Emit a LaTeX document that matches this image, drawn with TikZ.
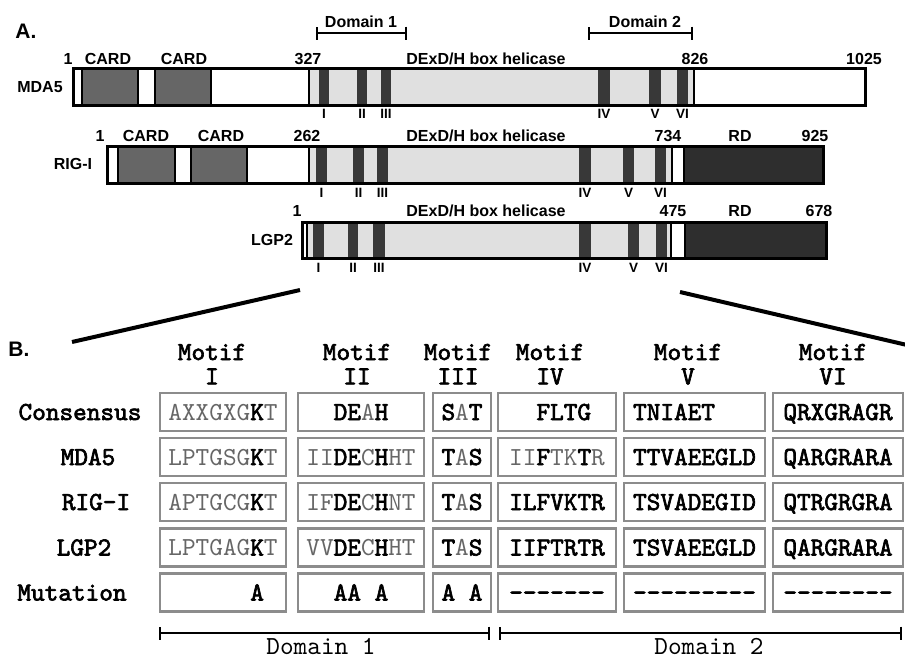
\documentclass[tikz,border=0pt]{standalone}
\usepackage{fontspec}
\newfontfamily\arial{Liberation Sans}
\newfontfamily\seqfont{lmmono10-regular.otf}[BoldFont=lmmono10-regular.otf,BoldFeatures={FakeBold=2.5}]
\usetikzlibrary{positioning,arrows.meta}
\definecolor{cardgray}{gray}{0.40}
\definecolor{motifgray}{gray}{0.22}
\definecolor{rdgray}{gray}{0.18}
\definecolor{helgray}{gray}{0.88}
\definecolor{boxgray}{gray}{0.55}
\definecolor{seqgray}{gray}{0.40}
\newcommand{\cons}[1]{{\bfseries\color{black}#1}}
\newcommand{\pad}{\hphantom{0}}
\newcommand{\dsh}{\mbox{-}}
\begin{document}
\begin{tikzpicture}[x=1pt,y=-1pt,
lab/.style={font=\arial\bfseries\fontsize{16}{18}\selectfont,inner sep=0pt,text height=11.5pt,text depth=0pt},
big/.style={font=\arial\bfseries\fontsize{21}{24}\selectfont,inner sep=0pt,text height=15pt,text depth=0pt},
num/.style={font=\arial\bfseries\fontsize{13.5}{15}\selectfont,inner sep=0pt,text height=9.7pt,text depth=0pt},
bar/.style={draw,line width=3pt},
sep/.style={draw,line width=1.8pt},
card/.style={sep,fill=cardgray},
hel/.style={sep,fill=helgray},
motif/.style={fill=motifgray},
rd/.style={sep,fill=rdgray},
zoomline/.style={line width=4pt},
topbracket/.style={line width=2.3pt,{Bar[width=13pt]}-{Bar[width=13pt]}},
seq/.style={font=\seqfont\fontsize{26}{28}\selectfont,inner sep=0pt,text=seqgray,text height=16pt,text depth=0pt},
cell/.style={seq,draw=boxgray,line width=2.5pt,minimum height=38pt},
rowlab/.style={seq,font=\seqfont\bfseries\fontsize{26}{28}\selectfont,text=black}
]
\useasboundingbox (0,0) rectangle (905,659);

\node[big] (A) at (26,31) {A.};
\draw[topbracket] (316,33) -- (407,33);
\node[lab] (dom1top) at (361,22) {Domain 1};
\draw[topbracket] (588,33) -- (693,33);
\node[lab] (dom2top) at (645,22) {Domain 2};

% MDA5
\fill[white] (73,68) rectangle (865,105);
\draw[card] (82,68) rectangle (138,105);
\draw[card] (155,68) rectangle (211,105);
\draw[hel] (309,68) rectangle (694,105);
\fill[motif] (319,68) rectangle (329,105);
\fill[motif] (357,68) rectangle (367,105);
\fill[motif] (381,68) rectangle (391,105);
\fill[motif] (598,68) rectangle (610,105);
\fill[motif] (649,68) rectangle (661,105);
\fill[motif] (677,68) rectangle (688,105);
\draw[bar] (73,68) rectangle (865,105);
\node[lab] (mda5) at (40,87) {MDA5};
\node[lab] (m1) at (68,59) {1};
\node[lab] (mcard1) at (108,59) {CARD};
\node[lab] (mcard2) at (184,59) {CARD};
\node[lab] (m327) at (308,59) {327};
\node[lab] (mhel) at (486,59) {DExD/H box helicase};
\node[lab] (m826) at (695,59) {826};
\node[lab] (m1025) at (864,59) {1025};
\node[num] (mI) at (324,114) {I};
\node[num] (mII) at (362,114) {II};
\node[num] (mIII) at (386,114) {III};
\node[num] (mIV) at (604,114) {IV};
\node[num] (mV) at (655,114) {V};
\node[num] (mVI) at (682.5,114) {VI};

% RIG-I
\fill[white] (107,146) rectangle (823,183);
\draw[card] (118,146) rectangle (175,183);
\draw[card] (191,146) rectangle (247,183);
\draw[hel] (309,146) rectangle (672,183);
\fill[motif] (316,146) rectangle (327,183);
\fill[motif] (353,146) rectangle (364,183);
\fill[motif] (377,146) rectangle (388,183);
\fill[motif] (579,146) rectangle (591,183);
\fill[motif] (623,146) rectangle (634,183);
\fill[motif] (655,146) rectangle (666,183);
\draw[rd] (684,146) rectangle (823,183);
\draw[bar] (107,146) rectangle (823,183);
\node[lab] (rig) at (73,164) {RIG-I};
\node[lab] (r1) at (100,136) {1};
\node[lab] (rcard1) at (146,136) {CARD};
\node[lab] (rcard2) at (221,136) {CARD};
\node[lab] (r262) at (307,136) {262};
\node[lab] (rhel) at (486,136) {DExD/H box helicase};
\node[lab] (r734) at (668,136) {734};
\node[lab] (rrd) at (740,136) {RD};
\node[lab] (r925) at (815,136) {925};
\node[num] (rI) at (321.5,193) {I};
\node[num] (rII) at (358.5,193) {II};
\node[num] (rIII) at (382.5,193) {III};
\node[num] (rIV) at (585,193) {IV};
\node[num] (rV) at (628.5,193) {V};
\node[num] (rVI) at (660.5,193) {VI};

% LGP2
\fill[white] (302,222) rectangle (826,258);
\draw[hel] (307,222) rectangle (671,258);
\fill[motif] (313,222) rectangle (324,258);
\fill[motif] (348,222) rectangle (358,258);
\fill[motif] (373,222) rectangle (385,258);
\fill[motif] (579,222) rectangle (591,258);
\fill[motif] (628,222) rectangle (639,258);
\fill[motif] (656,222) rectangle (667,258);
\draw[rd] (685,222) rectangle (826,258);
\draw[bar] (302,222) rectangle (826,258);
\node[lab] (lgp) at (272,240) {LGP2};
\node[lab] (l1) at (297,211) {1};
\node[lab] (lhel) at (486,211) {DExD/H box helicase};
\node[lab] (l475) at (673,211) {475};
\node[lab] (lrd) at (740,211) {RD};
\node[lab] (l678) at (819,211) {678};
\node[num] (lI) at (318.5,268) {I};
\node[num] (lII) at (353,268) {II};
\node[num] (lIII) at (379,268) {III};
\node[num] (lIV) at (585,268) {IV};
\node[num] (lV) at (633.5,268) {V};
\node[num] (lVI) at (661.5,268) {VI};

\coordinate (zl top) at (300,290);
\coordinate (zl bot) at (72,342);
\coordinate (zr top) at (680,292);
\coordinate (zr bot) at (907,345);
\draw[zoomline] (zl top) -- (zl bot);
\draw[zoomline] (zr top) -- (zr bot);

\node[big] (B) at (19,349) {B.};

\node[rowlab] (hI) at (212,352) {Motif};
\node[rowlab,below=8pt of hI] (nI) {I};
\node[rowlab] (hII) at (357,352) {Motif};
\node[rowlab,below=8pt of hII] (nII) {II};
\node[rowlab] (hIII) at (458,352) {Motif};
\node[rowlab,below=8pt of hIII] (nIII) {III};
\node[rowlab] (hIV) at (550,352) {Motif};
\node[rowlab,below=8pt of hIV] (nIV) {IV};
\node[rowlab] (hV) at (688,352) {Motif};
\node[rowlab,below=8pt of hV] (nV) {V};
\node[rowlab] (hVI) at (833,352) {Motif};
\node[rowlab,below=8pt of hVI] (nVI) {VI};

\node[rowlab] (consensus) at (80,412) {Consensus};
\node[rowlab] (smda5) at (88,457) {MDA5};
\node[rowlab] (srig) at (96,502) {RIG-I};
\node[rowlab] (slgp) at (84,547.5) {LGP2};
\node[rowlab] (mutation) at (72,592.5) {Mutation};

\node[cell,minimum width=126pt] (c1) at (223,412) {AXXGXG\cons{K}T};
\node[cell,minimum width=126pt] (c2) at (361,412) {\pad\pad\cons{DE}A\cons{H}\pad\pad};
\node[cell,minimum width=58pt] (c3) at (462,412) {\cons{S}A\cons{T}};
\node[cell,minimum width=118pt] (c4) at (557,412) {\pad\pad\cons{FLTG}\pad};
\node[cell,minimum width=141pt] (c5) at (694.5,412) {\cons{TNIAET}\pad\pad\pad};
\node[cell,minimum width=130pt] (c6) at (838,412) {\cons{QRXGRAGR}};

\node[cell,minimum width=126pt] (m1c) at (223,457) {LPTGSG\cons{K}T};
\node[cell,minimum width=126pt] (m2c) at (361,457) {II\cons{DE}C\cons{H}HT};
\node[cell,minimum width=58pt] (m3c) at (462,457) {\cons{T}A\cons{S}};
\node[cell,minimum width=118pt] (m4c) at (557,457) {II\cons{F}TK\cons{T}R};
\node[cell,minimum width=141pt] (m5c) at (694.5,457) {\cons{TTVAEEGLD}};
\node[cell,minimum width=130pt] (m6c) at (838,457) {\cons{QARGRARA}};

\node[cell,minimum width=126pt] (r1c) at (223,502) {APTGCG\cons{K}T};
\node[cell,minimum width=126pt] (r2c) at (361,502) {IF\cons{DE}C\cons{H}NT};
\node[cell,minimum width=58pt] (r3c) at (462,502) {\cons{T}A\cons{S}};
\node[cell,minimum width=118pt] (r4c) at (557,502) {\cons{ILFVKTR}};
\node[cell,minimum width=141pt] (r5c) at (694.5,502) {\cons{TSVADEGID}};
\node[cell,minimum width=130pt] (r6c) at (838,502) {\cons{QTRGRGRA}};

\node[cell,minimum width=126pt] (l1c) at (223,547.5) {LPTGAG\cons{K}T};
\node[cell,minimum width=126pt] (l2c) at (361,547.5) {VV\cons{DE}C\cons{H}HT};
\node[cell,minimum width=58pt] (l3c) at (462,547.5) {\cons{T}A\cons{S}};
\node[cell,minimum width=118pt] (l4c) at (557,547.5) {\cons{IIFTRTR}};
\node[cell,minimum width=141pt] (l5c) at (694.5,547.5) {\cons{TSVAEEGLD}};
\node[cell,minimum width=130pt] (l6c) at (838,547.5) {\cons{QARGRARA}};

\node[cell,minimum width=126pt] (x1c) at (223,592.5) {\pad\pad\pad\pad\pad\pad\cons{A}\pad};
\node[cell,minimum width=126pt] (x2c) at (361,592.5) {\pad\pad\cons{AA}\pad\cons{A}\pad\pad};
\node[cell,minimum width=58pt] (x3c) at (462,592.5) {\cons{A}\pad\cons{A}};
\node[cell,minimum width=118pt] (x4c) at (557,592.5) {\cons{\dsh\dsh\dsh\dsh\dsh\dsh\dsh}};
\node[cell,minimum width=141pt] (x5c) at (694.5,592.5) {\cons{\dsh\dsh\dsh\dsh\dsh\dsh\dsh\dsh\dsh}};
\node[cell,minimum width=130pt] (x6c) at (838,592.5) {\cons{\dsh\dsh\dsh\dsh\dsh\dsh\dsh\dsh}};

\coordinate (d1 left) at (159,633);
\coordinate (d1 right) at (490,633);
\coordinate (d2 left) at (499,633);
\coordinate (d2 right) at (902,633);
\draw[topbracket] (d1 left) -- (d1 right);
\draw[topbracket] (d2 left) -- (d2 right);
\node[seq,text=black] (dom1) at (321,646) {Domain 1};
\node[seq,text=black] (dom2) at (709,646) {Domain 2};
\end{tikzpicture}
\end{document}
